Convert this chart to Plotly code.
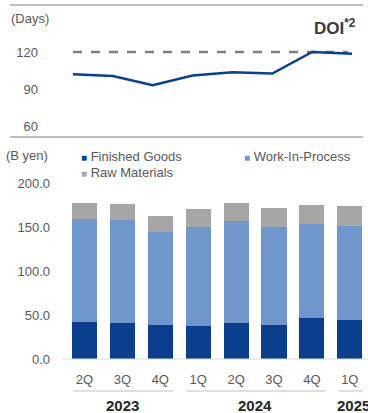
import plotly.graph_objects as go

# ---- data ----
quarters = ["2Q", "3Q", "4Q", "1Q", "2Q", "3Q", "4Q", "1Q"]
years = ["2023", "2024", "2025"]
year_spans = [(0, 2), (3, 6), (7, 7)]
finished_goods = [42, 41, 39, 38, 41, 39, 47, 44]
work_in_process = [117, 117, 105, 112, 116, 111, 106, 107.5]
raw_materials = [18, 18.5, 18, 20, 20, 22, 22, 22.5]
doi_days = [102, 100.5, 93, 101, 103.5, 102.5, 120, 118.5]
doi_target = 120
doi_ticks = [60, 90, 120]
inv_ticks = [0, 50, 100, 150, 200]

# ---- style ----
FONT = "Liberation Sans, Arial, sans-serif"
C_FG = "#0b3f8e"
C_WIP = "#7097cc"
C_RM = "#a6a6a6"
C_LINE = "#0b3f8e"
C_TXT = "#595959"
W, H = 368, 413
L, B = 55, 45
PW, PH = W - L, H - B

idx = list(range(len(quarters)))

def px_range(p_first, p_step, lo=L, hi=W):
    return [(lo - p_first) / p_step, (hi - p_first) / p_step]

def y_range(v_ref, p_ref, px_per_unit):
    r1 = v_ref + p_ref / px_per_unit
    return [r1 - PH / px_per_unit, r1]

def py(p):  # pixel y -> paper y
    return 1 - p / PH

def pxp(p):  # pixel x -> paper x
    return (p - L) / PW

fig = go.Figure()

# bars
for name, vals, col in [("Finished Goods", finished_goods, C_FG),
                        ("Work-In-Process", work_in_process, C_WIP),
                        ("Raw Materials", raw_materials, C_RM)]:
    fig.add_trace(go.Bar(x=idx, y=vals, name=name, marker=dict(color=col, line=dict(width=0)),
                         width=0.66, xaxis="x2", yaxis="y2", showlegend=False))

# DOI line
fig.add_trace(go.Scatter(x=idx, y=doi_days, mode="lines", line=dict(color=C_LINE, width=2.5),
                         xaxis="x", yaxis="y", showlegend=False))

fig.update_layout(
    width=W, height=H, margin=dict(l=L, r=0, t=0, b=B),
    paper_bgcolor="white", plot_bgcolor="rgba(0,0,0,0)",
    barmode="stack", font=dict(family=FONT, color=C_TXT, size=13),
    xaxis=dict(domain=[0, 1], range=px_range(73, 39.86), visible=False, fixedrange=True),
    yaxis=dict(domain=[0, 1], range=y_range(120, 52, 1.233), tickvals=doi_ticks,
               ticktext=[str(v) for v in doi_ticks], showgrid=False, zeroline=False,
               showline=False, ticks="", ticklabelstandoff=16, tickfont=dict(size=13, color=C_TXT)),
    xaxis2=dict(domain=[0, 1], range=px_range(84.5, 37.9), overlaying="x", anchor="y2",
                tickvals=idx, ticktext=quarters, showgrid=False, zeroline=False, showline=False,
                ticks="", ticklabelstandoff=2, tickfont=dict(size=13, color=C_TXT)),
    yaxis2=dict(domain=[0, 1], range=y_range(0, 359, 0.88), overlaying="y", anchor="x2",
                tickvals=inv_ticks, ticktext=[f"{v:.1f}" for v in inv_ticks], showgrid=False,
                zeroline=False, showline=False, ticks="", ticklabelstandoff=4,
                tickfont=dict(size=13, color=C_TXT)),
)

shapes = [
    dict(type="line", xref="paper", yref="paper", x0=pxp(10), x1=pxp(363), y0=py(5), y1=py(5),
         line=dict(color="#bfbfbf", width=2)),
    dict(type="line", xref="paper", yref="paper", x0=pxp(10), x1=pxp(363), y0=py(137), y1=py(137),
         line=dict(color="#bfbfbf", width=2)),
    dict(type="line", xref="x", yref="y", x0=0, x1=6.9, y0=doi_target, y1=doi_target,
         line=dict(color="#808080", width=2.5, dash="dash"), layer="below"),
    dict(type="line", xref="paper", yref="y2", x0=pxp(63), x1=1, y0=0, y1=0,
         line=dict(color="#d9d9d9", width=1)),
]
for (a, b) in year_spans:
    shapes.append(dict(type="line", xref="x2", yref="paper", x0=a - 0.3, x1=b + 0.35,
                       y0=py(391), y1=py(391), line=dict(color="#bfbfbf", width=1)))
fig.update_layout(shapes=shapes)

def legend_text(color, label):
    return f"<span style='color:{color};font-size:10px'>■</span> {label}"

ann = [
    dict(text="(Days)", x=pxp(9), y=py(19), xanchor="left", yanchor="middle", font=dict(size=13)),
    dict(text="<b>DOI<sup>*2</sup></b>", x=pxp(358), y=py(27), xanchor="right", yanchor="middle",
         font=dict(size=17, color="#3a3a3a")),
    dict(text="(B yen)", x=pxp(4), y=py(155), xanchor="left", yanchor="middle", font=dict(size=13)),
    dict(text=legend_text(C_FG, "Finished Goods"), x=pxp(79), y=py(156),
         xanchor="left", yanchor="middle", font=dict(size=13)),
    dict(text=legend_text(C_WIP, "Work-In-Process"), x=pxp(242), y=py(156),
         xanchor="left", yanchor="middle", font=dict(size=13)),
    dict(text=legend_text(C_RM, "Raw Materials"), x=pxp(79), y=py(173),
         xanchor="left", yanchor="middle", font=dict(size=13)),
]
for yr, (a, b) in zip(years, year_spans):
    ann.append(dict(text=f"<b>{yr}</b>", xref="x2", x=(a + b) / 2 + (0.1 if a == b else 0), y=py(406),
                    yanchor="middle", xanchor="center", font=dict(size=15, color="#262626")))
for a in ann:
    a.setdefault("xref", "paper")
    a["yref"] = "paper"
    a["showarrow"] = False
fig.update_layout(annotations=ann)

fig.write_html("out.html", config={"displayModeBar": False},
               post_script="document.body.style.margin='0';document.body.style.overflow='hidden';")
